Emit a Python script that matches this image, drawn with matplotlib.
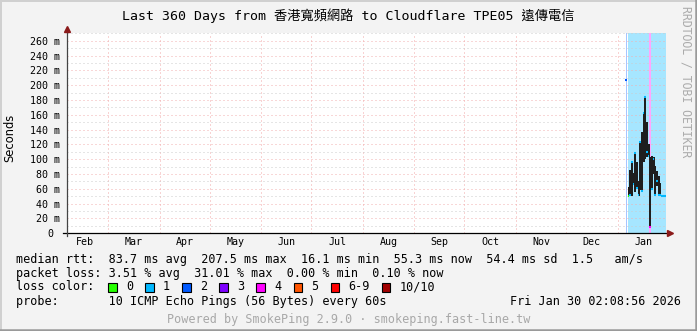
import matplotlib
matplotlib.use('Agg')
import matplotlib.pyplot as plt
from matplotlib.lines import Line2D
from matplotlib.patches import Rectangle
import datetime as dt
import numpy as np

W, H, DPI = 697, 331, 100
nan = np.nan

# ---------------- data ----------------
end_time = dt.datetime(2026, 1, 30, 2, 8, 56)
span_days = 360
start_time = end_time - dt.timedelta(days=span_days)

# columns: start (days since start of graph)
col_start = [335.4, 337, 338, 339, 340, 341, 342, 343, 344, 345, 346, 347, 348,
             349, 350, 351, 352, 353, 354, 355, 356, 357, 358, 359]
col_width = [0.9] + [1.0] * 23
smoke_low = [nan, 51, 51, 51, 65, 56, 61, 51, 58, 56, 96, 101, 103, 103, 8, 59,
             80, 51, 64, 51, 51, nan, nan, nan]
smoke_high = [nan, 62, 85, 96, 81, 108, 96, 70, 124, 137, 162, 185, 150, 120,
              103, 104, 103, 91, 84, 77, 68, nan, nan, nan]
median = [207.5, 51, 52, 96, 66, 108, 61, 52, 124, 57, 162, 184, 110, 104, 8,
          60, 100, 52, 70, 52, 52, 51, 51, 51]
median_loss = [2, 0, 1, 1, 1, 1, 1, 1, 1, 1, 1, 1, 1, 1, 4, 1, 1, 1, 1, 1, 1, 1, 1, 1]

# loss background spans
bg_start = [336.0, 337.2, 349.8, 350.8]
bg_end = [336.7, 349.8, 350.8, 360.0]
bg_loss = [2, 1, 4, 1]

loss_labels = ['0', '1', '2', '3', '4', '5', '6-9', '10/10']
loss_colors = ['#26ff00', '#00b8ff', '#0059ff', '#7e00ff', '#ff00ff',
               '#ff5500', '#ff0000', '#a10000']

y_ticks = list(range(0, 261, 20))
y_ticklabels = ['0 '] + ['%d m' % v for v in y_ticks[1:]]

title = 'Last 360 Days from 香港寬頻網路 to Cloudflare TPE05 遠傳電信'
stats_rtt = 'median rtt:  83.7 ms avg  207.5 ms max  16.1 ms min  55.3 ms now  54.4 ms sd  1.5   am/s'
stats_loss = 'packet loss: 3.51 % avg  31.01 % max  0.00 % min  0.10 % now'
probe_text = 'probe:       10 ICMP Echo Pings (56 Bytes) every 60s'
date_text = 'Fri Jan 30 02:08:56 2026'
footer = 'Powered by SmokePing 2.9.0 · smokeping.fast-line.tw'

# ---------------- figure ----------------
MONO = ['DejaVu Sans Mono', 'Noto Sans CJK TC']
fig = plt.figure(figsize=(W / DPI, H / DPI), dpi=DPI, facecolor='#f3f3f3')

def fx(x):
    return x / W

def fy(y):
    return 1 - y / H

ax_l, ax_r, ax_t, ax_b = 66.7, 666.0, 32.7, 233.3
ax = fig.add_axes([fx(ax_l), fy(ax_b), (ax_r - ax_l) / W, (ax_b - ax_t) / H])
ax.set_facecolor('white')
ax.set_xlim(0, span_days)
ax.set_ylim(0, 271)
for s in ax.spines.values():
    s.set_visible(False)

# loss background
for s0, s1, l in zip(bg_start, bg_end, bg_loss):
    ax.axvspan(s0, s1, color=loss_colors[l], alpha=0.35, lw=0, zorder=0.5)

# grid
def days_of(d):
    return (d - start_time).total_seconds() / 86400.0

month_starts = []
y, m = 2025, 2
while True:
    d = dt.datetime(y, m, 1)
    if d > end_time + dt.timedelta(days=40):
        break
    month_starts.append(d)
    m += 1
    if m > 12:
        m, y = 1, y + 1
for d in month_starts:
    xd = days_of(d)
    if 0 < xd < span_days:
        ax.axvline(xd, color='#f2a8a8', lw=0.72, ls=(0, (1, 3)), zorder=1)
for v in range(10, 271, 10):
    col = '#f2b0b0' if v % 20 == 0 else '#cccccc'
    ax.axhline(v, color=col, lw=0.72, ls=(0, (1, 3)), zorder=1)

# smoke
lo = np.array(smoke_low, dtype=float)
hi = np.array(smoke_high, dtype=float)
ax.bar(col_start, hi - lo, bottom=lo, width=np.array(col_width) * 1.25,
       align='edge', color='#1e1e1e', lw=0, zorder=2)
# median segments
xs = np.array(col_start)
ax.hlines(median, xs, xs + np.array(col_width),
          colors=[loss_colors[l] for l in median_loss], lw=1.5, zorder=3)

# axes lines with arrows
ax.plot([-2.5, 361.8], [0, 0], color='black', lw=0.9, clip_on=False, zorder=4)
ax.plot([0, 0], [-4, 274], color='#444444', lw=0.9, clip_on=False, zorder=4)
ax.plot([362.6], [0], marker='>', color='#8b1a1a', ms=4.5, clip_on=False, zorder=5)
ax.plot([0], [276.5], marker='^', color='#8b1a1a', ms=4.5, clip_on=False, zorder=5)

# ticks
ax.set_yticks(y_ticks)
ax.set_yticklabels(y_ticklabels, family=MONO, fontsize=7.2)
mids, mlabels = [], []
for a, b in zip(month_starts[:-1], month_starts[1:]):
    c = (days_of(a) + days_of(b)) / 2
    if 0 <= c <= span_days:
        mids.append(c)
        mlabels.append(a.strftime('%b'))
ax.set_xticks(mids)
ax.set_xticklabels(mlabels, family=MONO, fontsize=7.2)
ax.tick_params(axis='y', length=0, pad=4.6)
ax.tick_params(axis='x', length=0, pad=3.0)

# texts
fig.text(fx(348), fy(15.5), title, family=MONO, fontsize=9.5,
         ha='center', va='center')
fig.text(fx(10), fy(138), 'Seconds', family='DejaVu Sans', fontsize=8.3,
         rotation=90, ha='center', va='center')
fig.text(fx(686), fy(81.5), 'RRDTOOL / TOBI OETIKER', family=MONO, fontsize=8.3,
         rotation=270, ha='center', va='center', color='#ababab')

LF = 8.5
fig.text(fx(16), fy(259.3), stats_rtt, family=MONO, fontsize=LF, va='center')
fig.text(fx(16), fy(273.3), stats_loss, family=MONO, fontsize=LF, va='center')
fig.text(fx(16), fy(287.0), 'loss color:', family=MONO, fontsize=LF, va='center')
bx = 108.0
cw = 7.1
for lab, col in zip(loss_labels, loss_colors):
    fig.add_artist(Rectangle((fx(bx), fy(291.5)), 8.5 / W, 9 / H,
                             transform=fig.transFigure, facecolor=col,
                             edgecolor='black', lw=0.8))
    tx = bx + 18
    fig.text(fx(tx), fy(287.0), lab, family=MONO, fontsize=LF, va='center')
    bx = tx + len(lab) * cw + 12
fig.text(fx(16), fy(301.3), probe_text, family=MONO, fontsize=LF, va='center')
fig.text(fx(681), fy(301.3), date_text, family=MONO, fontsize=LF, va='center',
         ha='right')
fig.text(fx(348.5), fy(319), footer, family=MONO, fontsize=LF, va='center',
         ha='center', color='#a8a8a8')

# 3D border
fig.add_artist(Line2D([0, 1], [fy(0.7), fy(0.7)], transform=fig.transFigure,
                      color='#d0d0d0', lw=1.44))
fig.add_artist(Line2D([fx(0.7), fx(0.7)], [0, 1], transform=fig.transFigure,
                      color='#d0d0d0', lw=1.44))
fig.add_artist(Line2D([0, 1], [fy(H - 1.2), fy(H - 1.2)], transform=fig.transFigure,
                      color='#9a9a9a', lw=1.8))
fig.add_artist(Line2D([fx(W - 1.2), fx(W - 1.2)], [0, 1], transform=fig.transFigure,
                      color='#9a9a9a', lw=1.8))

fig.savefig('out.png', dpi=DPI, facecolor=fig.get_facecolor())
